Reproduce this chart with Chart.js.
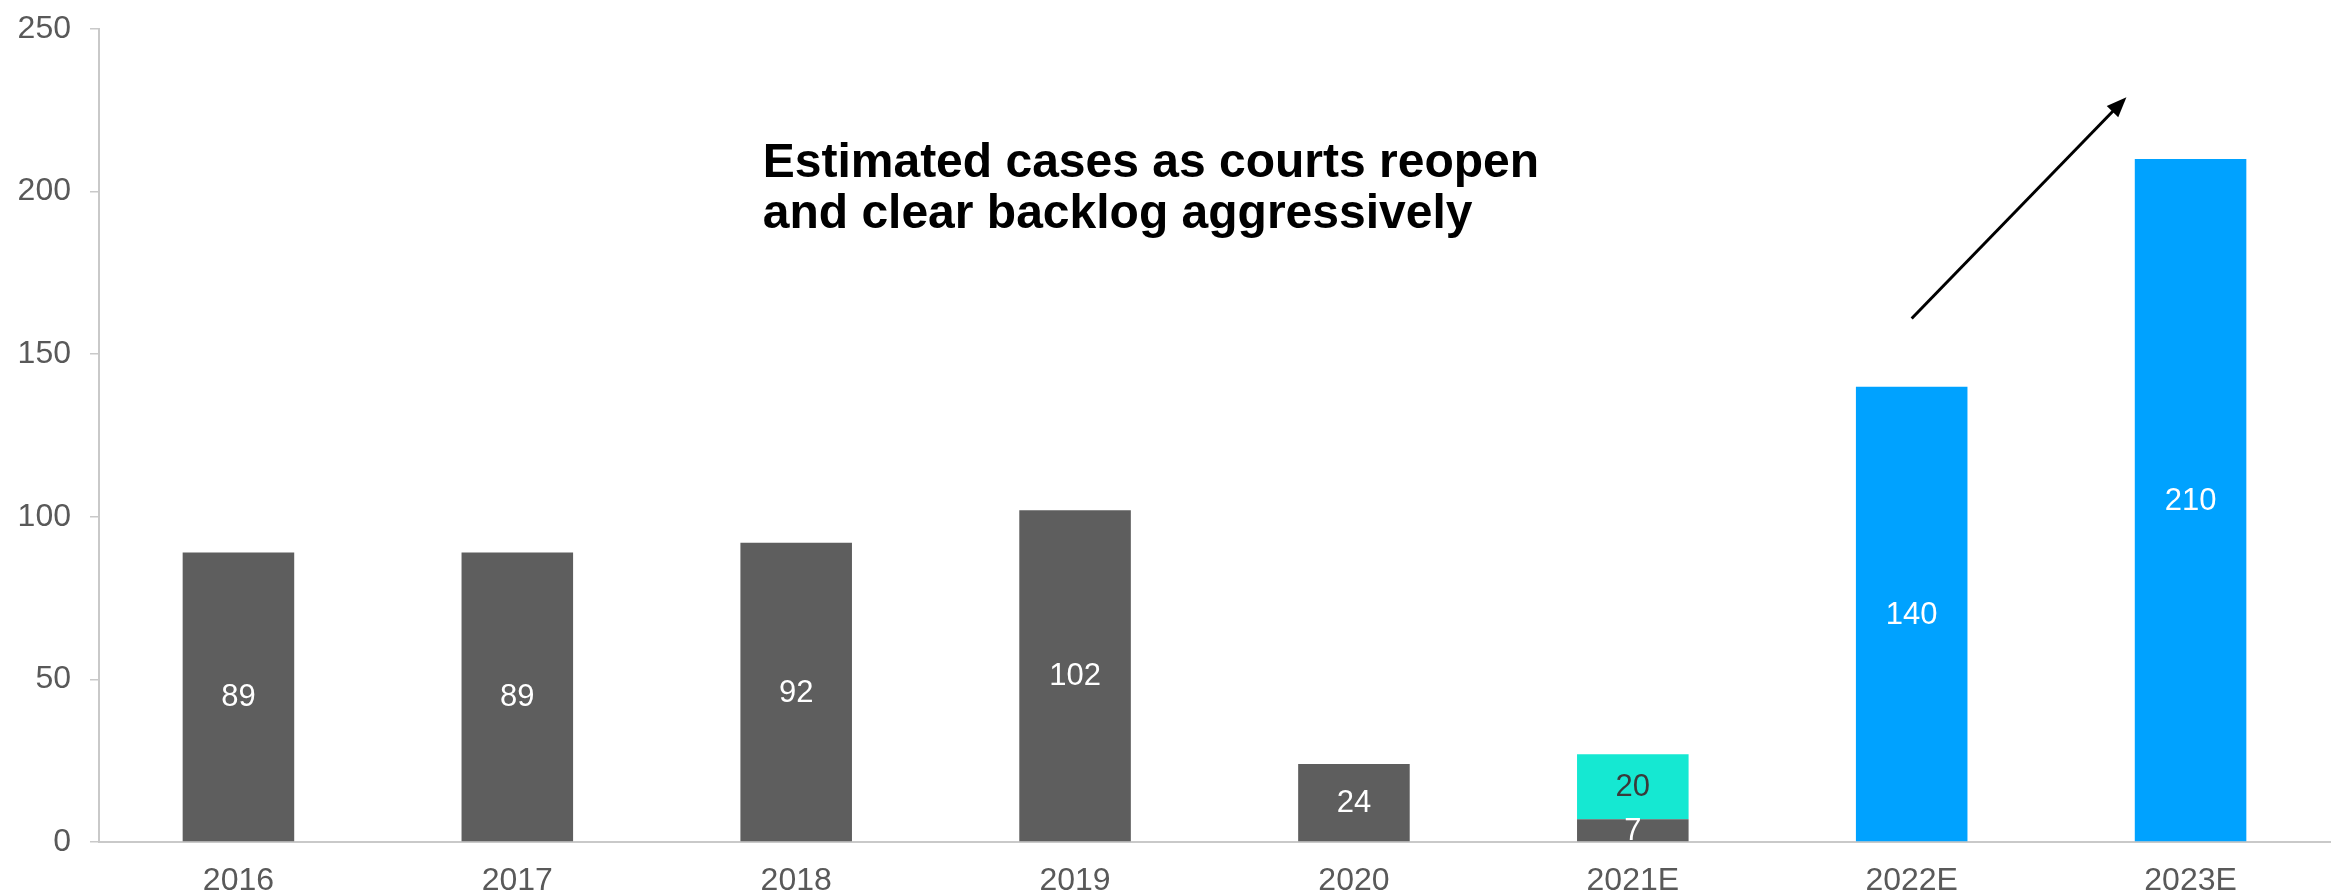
<!DOCTYPE html>
<html>
<head>
<meta charset="utf-8">
<title>Cases by year</title>
<script src="https://cdn.jsdelivr.net/npm/chart.js@4.4.1/dist/chart.umd.min.js"></script>
<style>
  html, body { margin: 0; padding: 0; background: #fff; }
  #wrap { width: 2336px; height: 896px; position: relative; }
</style>
</head>
<body>
<div id="wrap"><canvas id="cases"></canvas></div>
<script>
const years = ['2016', '2017', '2018', '2019', '2020', '2021E', '2022E', '2023E'];
const actualCases = [89, 89, 92, 102, 24, 7, null, null];
const backlogCases = [null, null, null, null, null, 20, null, null];
const estimatedCases = [null, null, null, null, null, null, 140, 210];
const yTicks = [0, 50, 100, 150, 200, 250];

const noteLines = ['Estimated cases as courts reopen', 'and clear backlog aggressively'];
// note anchor: [category index, value]; arrow: from [index, value] to [index, value]
const noteAt = [1.88, 204.5];
const arrowFrom = [6, 161];
const arrowTo = [6.77, 229];

const GREY = '#5e5e5e';
const TEAL = '#15e8d2';
const BLUE = '#00a2ff';
const AXIS = '#c9c9c9';
const TEXT = '#595959';
const FONT = '"Liberation Sans", Arial, sans-serif';

// x pixel for a fractional category index
function xAt(scale, v) {
  const i = Math.floor(v);
  const a = scale.getPixelForValue(i);
  const b = scale.getPixelForValue(i + 1);
  return a + (v - i) * (b - a);
}

const barValues = {
  id: 'barValues',
  afterDatasetsDraw(chart) {
    const ctx = chart.ctx;
    ctx.save();
    ctx.font = '31px ' + FONT;
    ctx.textAlign = 'center';
    ctx.textBaseline = 'middle';
    chart.data.datasets.forEach((ds, di) => {
      const meta = chart.getDatasetMeta(di);
      meta.data.forEach((bar, i) => {
        const v = ds.data[i];
        if (v == null) return;
        ctx.fillStyle = ds.labelColor;
        ctx.fillText(String(v), bar.x, (bar.y + bar.base) / 2 + 1);
      });
    });
    ctx.restore();
  }
};

const note = {
  id: 'note',
  afterDraw(chart) {
    const ctx = chart.ctx;
    const xs = chart.scales.x, ys = chart.scales.y;
    ctx.save();
    ctx.fillStyle = '#000';
    ctx.font = 'bold 48px ' + FONT;
    ctx.textAlign = 'left';
    ctx.textBaseline = 'alphabetic';
    const x0 = xAt(xs, noteAt[0]);
    const y0 = ys.getPixelForValue(noteAt[1]);
    noteLines.forEach((line, k) => ctx.fillText(line, x0, y0 + k * 51));

    // arrow
    const x1 = xAt(xs, arrowFrom[0]), y1 = ys.getPixelForValue(arrowFrom[1]);
    const x2 = xAt(xs, arrowTo[0]), y2 = ys.getPixelForValue(arrowTo[1]);
    const ang = Math.atan2(y2 - y1, x2 - x1);
    const head = 20, half = 8;
    ctx.strokeStyle = '#000';
    ctx.lineWidth = 3;
    ctx.beginPath();
    ctx.moveTo(x1, y1);
    ctx.lineTo(x2 - Math.cos(ang) * head * 0.8, y2 - Math.sin(ang) * head * 0.8);
    ctx.stroke();
    ctx.beginPath();
    ctx.moveTo(x2, y2);
    ctx.lineTo(x2 - Math.cos(ang) * head - Math.sin(ang) * half, y2 - Math.sin(ang) * head + Math.cos(ang) * half);
    ctx.lineTo(x2 - Math.cos(ang) * head + Math.sin(ang) * half, y2 - Math.sin(ang) * head - Math.cos(ang) * half);
    ctx.closePath();
    ctx.fill();
    ctx.restore();
  }
};

const bar = (label, data, color, labelColor) => ({
  label, data,
  backgroundColor: color,
  labelColor,
  barPercentage: 0.4,
  categoryPercentage: 1.0,
  borderWidth: 0
});

new Chart(document.getElementById('cases'), {
  type: 'bar',
  data: {
    labels: years,
    datasets: [
      bar('Cases', actualCases, GREY, '#ffffff'),
      bar('Backlog', backlogCases, TEAL, '#3a3a3a'),
      bar('Estimated', estimatedCases, BLUE, '#ffffff')
    ]
  },
  options: {
    responsive: true,
    maintainAspectRatio: false,
    devicePixelRatio: 1,
    animation: false,
    layout: { padding: { top: 29, right: 6, left: 0, bottom: 0 } },
    plugins: {
      legend: { display: false },
      tooltip: { enabled: false }
    },
    scales: {
      x: {
        stacked: true,
        grid: { display: false },
        border: { display: true, color: AXIS, width: 2 },
        ticks: { color: TEXT, font: { family: FONT, size: 32 }, padding: 12 },
        afterFit(s) { s.height = 54; s.paddingLeft = 0; s.paddingRight = 0; }
      },
      y: {
        stacked: true,
        min: 0,
        max: 250,
        afterBuildTicks(s) { s.ticks = yTicks.map(v => ({ value: v })); },
        grid: { drawOnChartArea: false, drawTicks: true, tickLength: 9, color: AXIS, lineWidth: 1.5 },
        border: { display: true, color: AXIS, width: 2 },
        ticks: { color: TEXT, font: { family: FONT, size: 32 }, padding: 19 },
        afterFit(s) { s.width = 99; s.paddingTop = 0; s.paddingBottom = 0; }
      }
    }
  },
  plugins: [barValues, note]
});
</script>
</body>
</html>
